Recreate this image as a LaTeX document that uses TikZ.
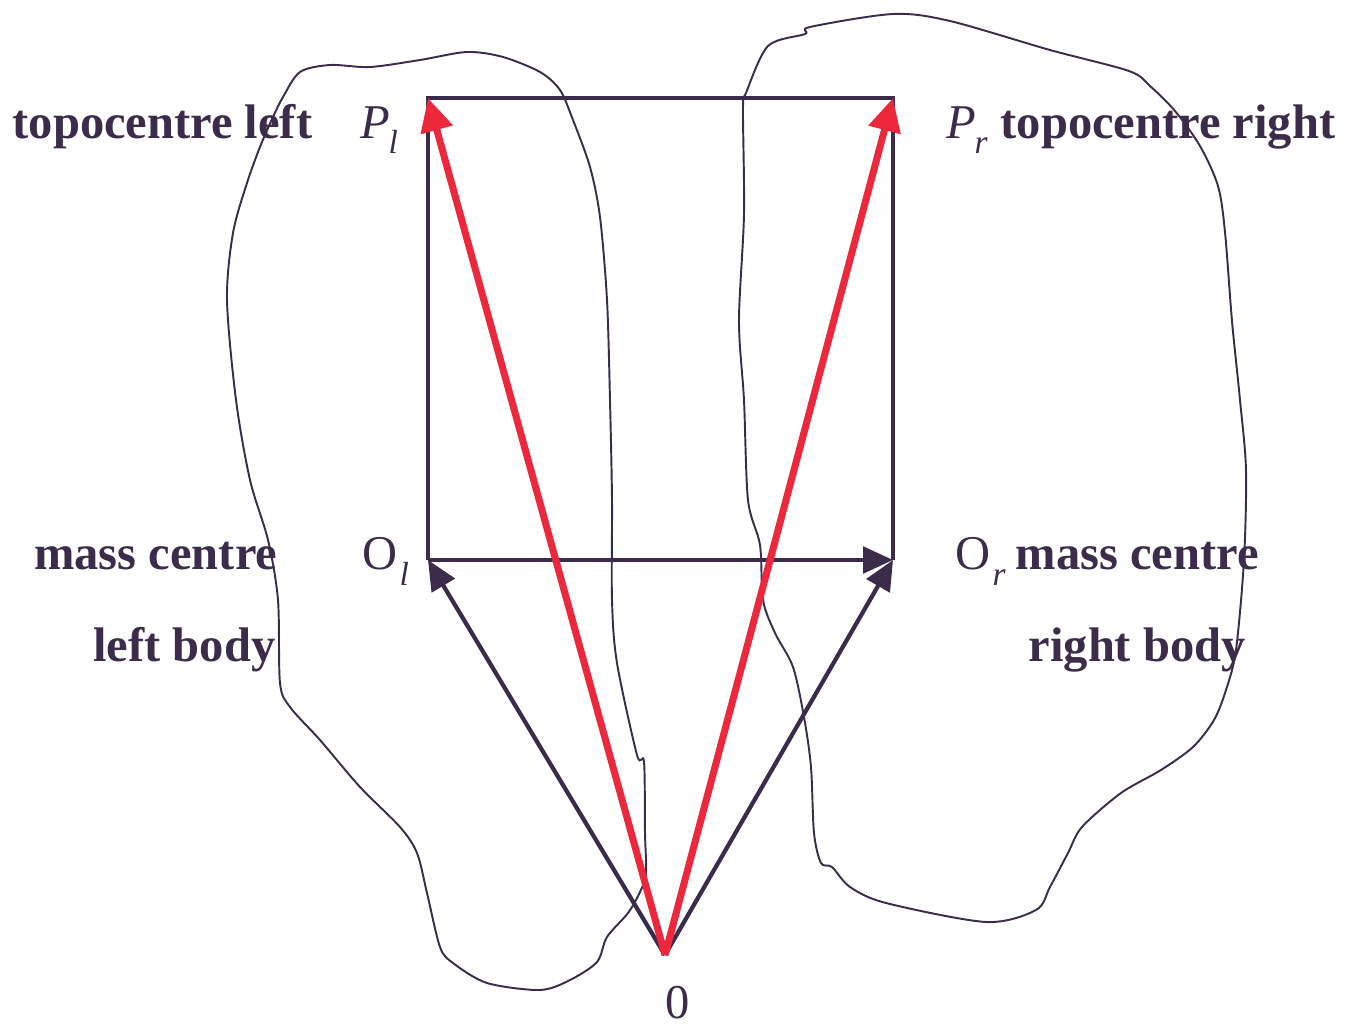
\documentclass[tikz,border=0pt]{standalone}
\usepackage{fontspec}
\setmainfont{Liberation Serif}
\usepackage{xcolor}
\usetikzlibrary{arrows.meta}
\definecolor{ink}{RGB}{58,44,74}
\definecolor{vecred}{RGB}{238,40,60}
\newcommand\idx[1]{\raisebox{-0.32em}{\fontsize{9.5}{9.5}\selectfont\itshape #1}}

\begin{document}
\begin{tikzpicture}[
  x=0.01cm, y=-0.01cm,
  body/.style={draw=ink, line width=0.55pt},
  frame/.style={draw=ink, line width=1.2pt},
  vec/.style={draw=ink, line width=1.2pt, -{Triangle[length=8.5pt,width=7.5pt]}},
  rvec/.style={draw=vecred, line width=2pt, -{Triangle[length=9.4pt,width=9pt]}},
  lbl/.style={text=ink, inner sep=0pt, font=\fontsize{13.8}{16}\selectfont\bfseries},
  sym/.style={text=ink, inner sep=0pt, font=\fontsize{13.8}{16}\selectfont},
]
  \useasboundingbox (0,0) rectangle (1353,1024);
  % points
  \coordinate (Pl) at (428,98);
  \coordinate (Pr) at (893,98);
  \coordinate (Ol) at (428,560);
  \coordinate (Or) at (893,560);
  \coordinate (O)  at (665,955);
  % LEFT BODY outline
  \draw[body] plot[smooth cycle, tension=0.5] coordinates {
    (300,72) (330,65) (370,67) (420,60) (467,52) (503,57) (540,72) (560,90)
    (573,120) (590,167) (600,217) (607,300) (610,400) (612,500) (612,600)
    (617,663) (637,755) (644,762) (645,833) (646,873) (640,892) (628,913)
    (607,937) (597,962) (570,980) (540,990) (487,983) (453,963) (440,947)
    (427,893) (417,853) (400,827) (360,787) (320,740) (290,707) (280,683)
    (278,600) (268,540) (250,480) (236,400) (227,300) (233,233) (247,183)
    (260,147) (273,117) (283,97)};
  % RIGHT BODY outline
  \draw[body] plot[smooth cycle, tension=0.5] coordinates {
    (743,107) (746,93) (768,46) (805,34) (810,27) (893,14) (950,21)
    (1050,50) (1129,71) (1150,86) (1175,111) (1200,146) (1218,186)
    (1225,232) (1232,321) (1240,400) (1246,470) (1244,560) (1236,650)
    (1226,690) (1214,720) (1193,747) (1161,770) (1121,793) (1082,827)
    (1068,853) (1050,887) (1036,910) (986,922) (886,903) (850,887)
    (832,867) (821,863) (814,833) (811,767) (804,717) (793,667) (775,633)
    (763,600) (760,545) (748,500) (744,400) (739,321) (744,214)};
  % frame
  \draw[frame] (Ol) -- (Pl) -- (Pr) -- (Or);
  \draw[vec] (Ol) -- (Or);
  % mass centre vectors
  \draw[vec] (O) -- (Ol);
  \draw[vec] (O) -- (Or);
  % topocentre vectors
  \draw[rvec] (O) -- (Pl);
  \draw[rvec] (O) -- (Pr);
  % labels left
  \node[lbl, anchor=base east] (topo-l) at (313,138) {topocentre left};
  \node[sym, anchor=base west] (Pl-lab) at (360,138) {\itshape P\kern-0.5pt\idx{l}};
  \node[lbl, anchor=base east] (mass-l) at (278,570) {mass centre};
  \node[sym, anchor=base west] (Ol-lab) at (362,570) {O\kern0.5pt\idx{l}};
  \node[lbl, anchor=base east] (body-l) at (276,662) {left body};
  % labels right
  \node[sym, anchor=base west] (Pr-lab) at (946,138) {\itshape P\kern-0.5pt\idx{r}};
  \node[lbl, anchor=base west] (topo-r) at (1000,138) {topocentre right};
  \node[sym, anchor=base west] (Or-lab) at (955,570) {O\kern0.5pt\idx{r}};
  \node[lbl, anchor=base west] (mass-r) at (1015,570) {mass centre};
  \node[lbl, anchor=base west] (body-r) at (1028,662) {right body};
  % origin
  \node[sym, anchor=base] (O-lab) at (678,1018) {0};
\end{tikzpicture}
\end{document}
